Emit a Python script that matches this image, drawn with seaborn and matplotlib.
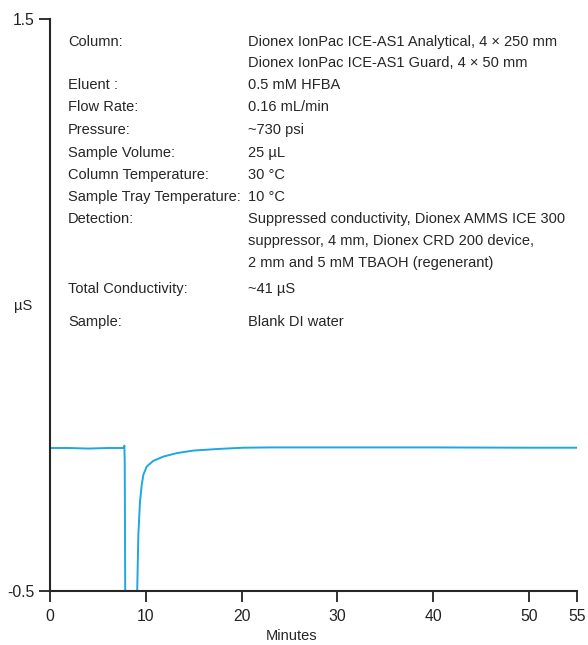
import numpy as np
import pandas as pd
import matplotlib
matplotlib.use('Agg')
import matplotlib.pyplot as plt
from matplotlib import font_manager
import seaborn as sns

# trace
minutes = [0, 2, 4, 6, 7.6, 7.72, 7.76, 7.80, 7.86, 9.04, 9.22, 9.39, 9.57, 9.74,
           10.09, 10.78, 11.83, 13.22, 14.96, 17.74, 20.2, 23, 30, 40, 50, 55]
signal = [0.0, 0.0, -0.002, 0.0, 0.0, 0.0, 0.008, -0.05, -0.6, -0.6, -0.304, -0.188,
          -0.13, -0.094, -0.065, -0.045, -0.03, -0.018, -0.009, -0.003, 0.001,
          0.002, 0.002, 0.002, 0.001, 0.001]

labels = ['Column:', '', 'Eluent :', 'Flow Rate:', 'Pressure:', 'Sample Volume:',
          'Column Temperature:', 'Sample Tray Temperature:', 'Detection:', '', '',
          'Total Conductivity:', 'Sample:']
values = ['Dionex IonPac ICE-AS1 Analytical, 4 \u00d7 250 mm',
          'Dionex IonPac ICE-AS1 Guard, 4 \u00d7 50 mm',
          '0.5 mM HFBA', '0.16 mL/min', '~730 psi', '25 \u00b5L', '30 \u00b0C', '10 \u00b0C',
          'Suppressed conductivity, Dionex AMMS ICE 300',
          'suppressor, 4 mm, Dionex CRD 200 device,',
          '2 mm and 5 mM TBAOH (regenerant)', '~41 \u00b5S', 'Blank DI water']
row_y = [42, 63, 85, 107, 130, 153, 175, 197, 219, 241, 263, 289, 322]  # pixel rows

sns.set_style('ticks')
names = {f.name for f in font_manager.fontManager.ttflist}
if 'Liberation Sans Narrow' in names:
    main_font, fs = 'Liberation Sans Narrow', 12.2
else:
    main_font, fs = 'Liberation Sans', 10.5
plt.rcParams['font.family'] = [main_font, 'DejaVu Sans']

W, H = 588, 645
fig = plt.figure(figsize=(W / 100, H / 100), dpi=100)
ax = fig.add_axes([50 / W, 1 - 591 / H, 527 / W, 572 / H])

df = pd.DataFrame({'Minutes': minutes, 'uS': signal})
sns.lineplot(data=df, x='Minutes', y='uS', ax=ax, color='#1ea7e1', linewidth=1.4)

ax.set_xlim(0, 55)
ax.set_ylim(-0.5, 1.5)
ax.set_xticks([0, 10, 20, 30, 40, 50, 55])
ax.set_yticks([-0.5, 1.5])
ax.set_yticklabels(['-0.5', '1.5'])
sns.despine(ax=ax)
for s in ['left', 'bottom']:
    ax.spines[s].set_linewidth(1.5)
ax.tick_params(labelsize=fs + 0.8, width=1.3, length=8, colors='#222222')
ax.tick_params(axis='x', pad=5)
ax.tick_params(axis='y', pad=3)

ax.set_xlabel('Minutes', fontsize=fs)
ax.xaxis.label.set_va('center')
ax.xaxis.set_label_coords((292 - 50) / 527, -(636 - 591) / 572)
ax.set_ylabel('')
fig.text(23 / W, 1 - 306 / H, '\u00b5S', fontsize=fs, ha='center', va='center')

for lab, val, y in zip(labels, values, row_y):
    fig.text(68 / W, 1 - y / H, lab, fontsize=fs, va='center', ha='left')
    fig.text(248 / W, 1 - y / H, val, fontsize=fs, va='center', ha='left')

fig.savefig('out.png', dpi=100)
